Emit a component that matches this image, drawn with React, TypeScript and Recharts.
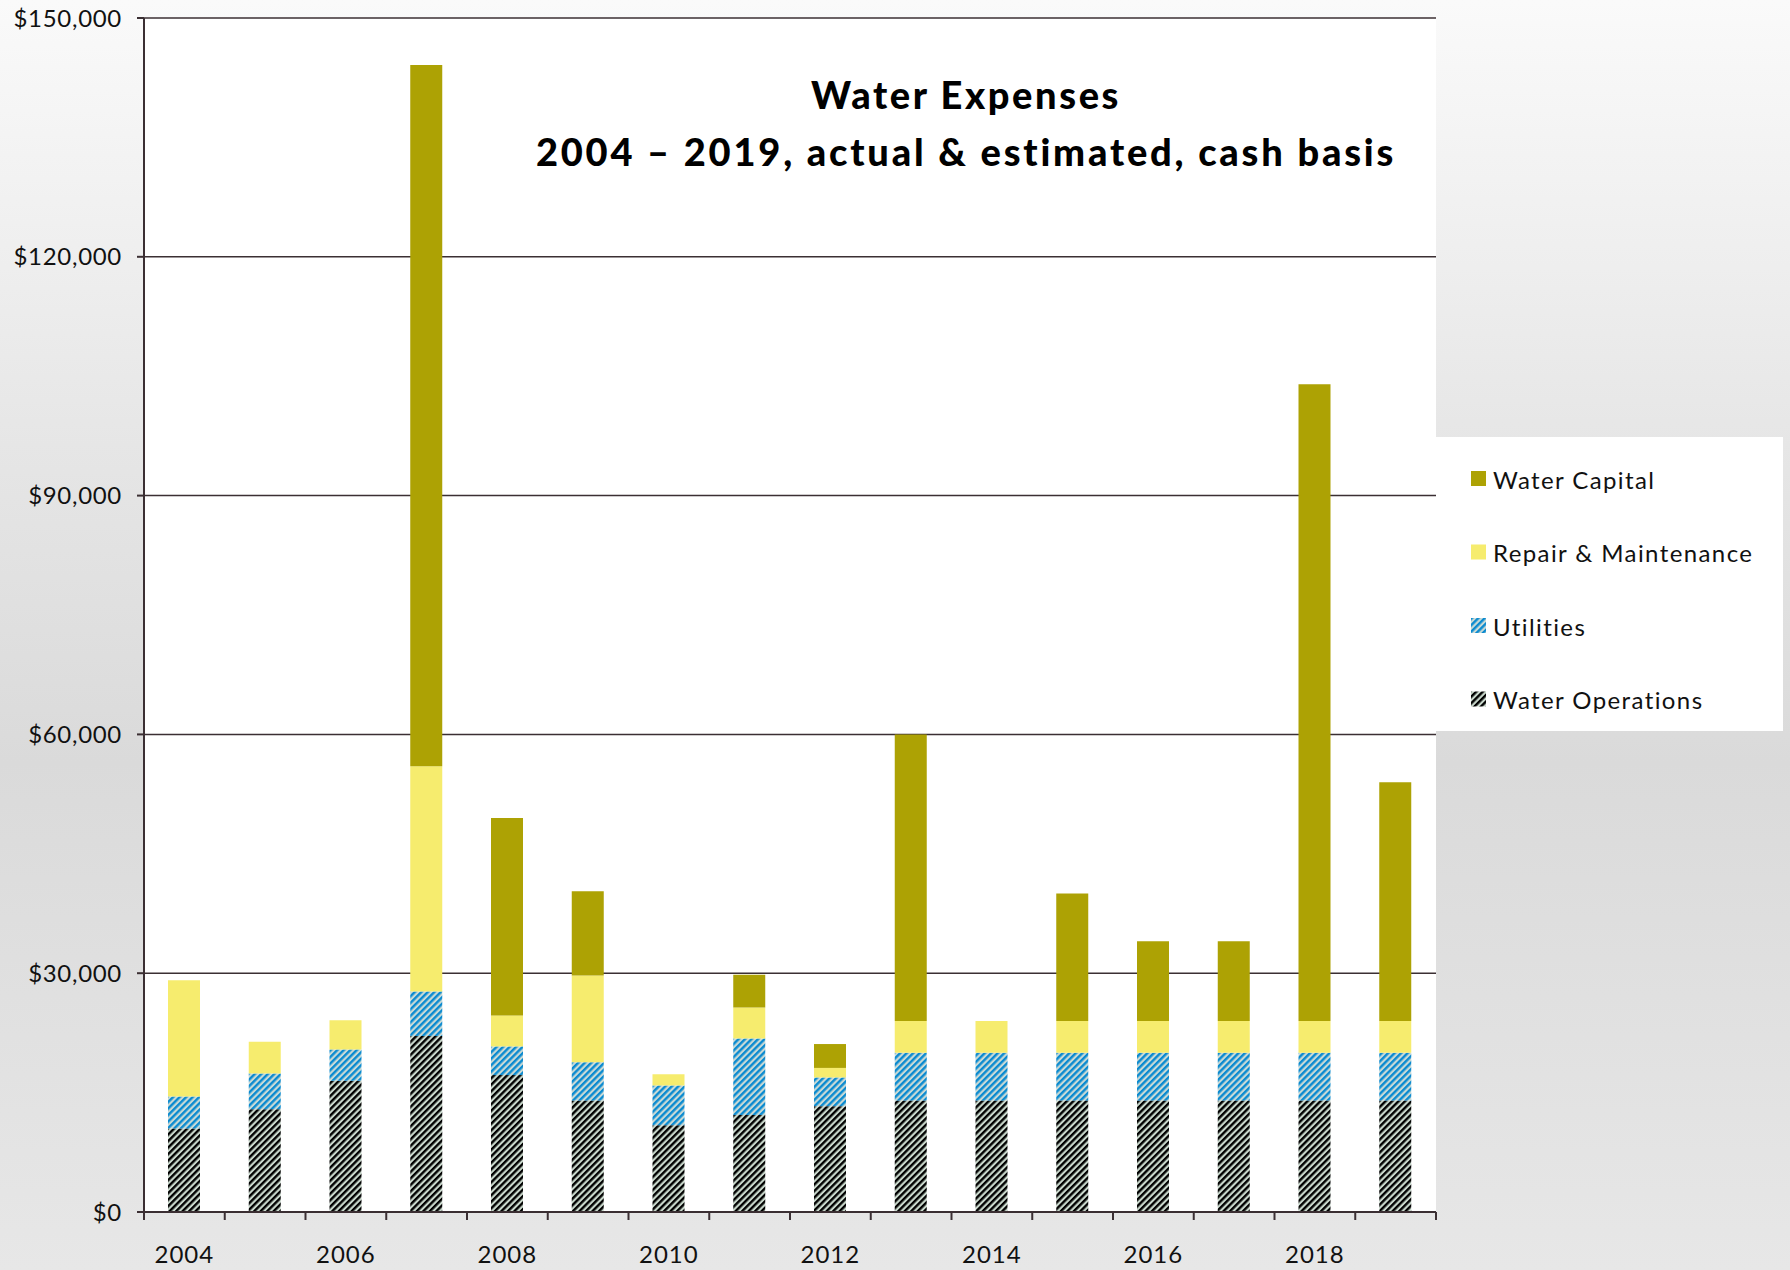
import { BarChart, Bar, XAxis, YAxis, CartesianGrid, Customized } from 'recharts';

const years = ['2004', '2005', '2006', '2007', '2008', '2009', '2010', '2011', '2012', '2013', '2014', '2015', '2016', '2017', '2018', '2019'];
const waterOperations = [10500, 12900, 16500, 22100, 17200, 14000, 10900, 12200, 13300, 14000, 14000, 14000, 14000, 14000, 14000, 14000];
const utilities = [4000, 4500, 3900, 5600, 3600, 4800, 5000, 9600, 3600, 6000, 6000, 6000, 6000, 6000, 6000, 6000];
const repairMaintenance = [14600, 4000, 3700, 28300, 3900, 10900, 1400, 3900, 1200, 4000, 4000, 4000, 4000, 4000, 4000, 4000];
const waterCapital = [0, 0, 0, 88100, 24800, 10600, 0, 4100, 3000, 36000, 0, 16000, 10000, 10000, 80000, 30000];
const yTicks = [0, 30000, 60000, 90000, 120000, 150000];

const data = years.map((year, i) => ({
  year,
  ops: waterOperations[i],
  util: utilities[i],
  repair: repairMaintenance[i],
  capital: waterCapital[i],
}));

const AXIS = '#3b2f33';
const FONT = 'Lato, "Open Sans", sans-serif';
const CAPITAL = '#ada204';
const REPAIR = '#f6ec6e';

const PLOT_LEFT = 144;
const PLOT_RIGHT = 1436;

const YearTick = (props: any) => {
  const { x, y, payload, index } = props;
  const half = (PLOT_RIGHT - PLOT_LEFT) / years.length / 2;
  return (
    <g>
      <line x1={x - half} x2={x - half} y1={y} y2={y + 8} stroke={AXIS} strokeWidth={2} />
      {index === years.length - 1 && (
        <line x1={x + half} x2={x + half} y1={y} y2={y + 8} stroke={AXIS} strokeWidth={2} />
      )}
      {Number(payload.value) % 2 === 0 && (
        <text x={x} y={y + 41} textAnchor="middle" dominantBaseline="central" fontFamily={FONT} fontSize={24} letterSpacing={1} fill="#111">
          {payload.value}
        </text>
      )}
    </g>
  );
};

const legendItems = [
  { label: 'Water Capital', fill: CAPITAL },
  { label: 'Repair & Maintenance', fill: REPAIR },
  { label: 'Utilities', fill: 'url(#utilPattern)' },
  { label: 'Water Operations', fill: 'url(#opsPattern)' },
];

const Extras = () => (
  <g>
    <defs>
      <pattern id="opsPattern" patternUnits="userSpaceOnUse" width={4.6} height={4.6} patternTransform="rotate(45)">
        <rect x={0} y={0} width={4.6} height={4.6} fill="#c9d8cc" />
        <rect x={0} y={0} width={2.4} height={4.6} fill="#000" />
      </pattern>
      <pattern id="utilPattern" patternUnits="userSpaceOnUse" width={4.6} height={4.6} patternTransform="rotate(45)">
        <rect x={0} y={0} width={4.6} height={4.6} fill="#c9dad6" />
        <rect x={0} y={0} width={2.4} height={4.6} fill="#0a8ad0" />
      </pattern>
    </defs>
    <text x={966} y={94} textAnchor="middle" dominantBaseline="central" fontFamily={FONT} fontWeight={900} fontSize={38} letterSpacing={2.6} fill="#000">
      Water Expenses
    </text>
    <text x={966} y={151} textAnchor="middle" dominantBaseline="central" fontFamily={FONT} fontWeight={900} fontSize={38} letterSpacing={2.8} fill="#000">
      2004 – 2019, actual &amp; estimated, cash basis
    </text>
    <rect x={1436} y={437} width={347} height={294} fill="#fff" />
    {legendItems.map((item, i) => {
      const cy = 479 + i * 73.5;
      return (
        <g key={item.label}>
          <rect x={1471} y={cy - 8} width={15} height={15} fill={item.fill} />
          <text x={1493} y={cy} dominantBaseline="central" fontFamily={FONT} fontSize={24} letterSpacing={1.4} fill="#111">
            {item.label}
          </text>
        </g>
      );
    })}
  </g>
);

export default function App() {
  return (
    <div
      style={{
        position: 'absolute',
        left: 0,
        top: 0,
        width: 1790,
        height: 1270,
        background: 'linear-gradient(to bottom, #fafafa 0%, #e6e6e6 35%, #dadada 60%, #e7e7e7 100%)',
      }}
    >
      <BarChart width={1790} height={1270} data={data} margin={{ top: 18, right: 354, bottom: 0, left: 0 }} barSize={32}>
        <CartesianGrid vertical={false} stroke={AXIS} strokeWidth={1.5} fill="#fff" fillOpacity={1} />
        <XAxis
          dataKey="year"
          height={58}
          interval={0}
          tickLine={false}
          tickSize={0}
          tickMargin={0}
          axisLine={{ stroke: AXIS, strokeWidth: 2 }}
          tick={<YearTick />}
        />
        <YAxis
          width={144}
          domain={[0, 150000]}
          ticks={yTicks}
          interval={0}
          tickSize={7}
          tickMargin={15}
          tickLine={{ stroke: AXIS, strokeWidth: 2 }}
          axisLine={{ stroke: AXIS, strokeWidth: 2 }}
          tickFormatter={(v: number) => `$${v.toLocaleString('en-US')}`}
          tick={{ fontFamily: FONT, fontSize: 24, letterSpacing: 0.7, fill: '#111' }}
        />
        <Bar dataKey="ops" stackId="a" fill="url(#opsPattern)" isAnimationActive={false} />
        <Bar dataKey="util" stackId="a" fill="url(#utilPattern)" isAnimationActive={false} />
        <Bar dataKey="repair" stackId="a" fill={REPAIR} isAnimationActive={false} />
        <Bar dataKey="capital" stackId="a" fill={CAPITAL} isAnimationActive={false} />
        <Customized component={<Extras />} />
      </BarChart>
    </div>
  );
}
